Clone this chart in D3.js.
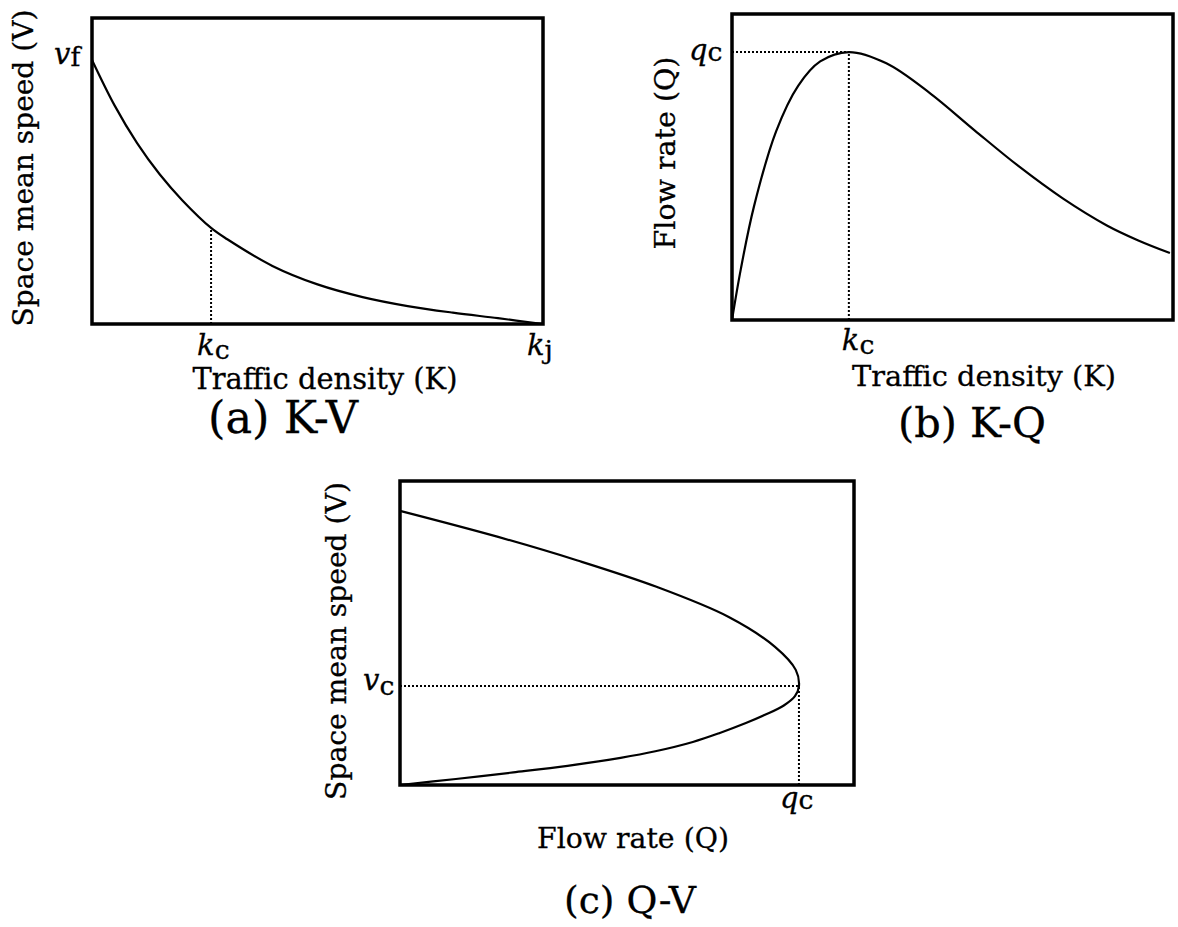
<!DOCTYPE html>
<html><head><meta charset="utf-8">
<script src="https://cdn.jsdelivr.net/npm/d3@7"></script>
<style>
html,body{margin:0;padding:0;background:#fff;}
svg{display:block;}
text{font-family:"DejaVu Serif","Liberation Serif",serif;fill:#000;stroke:#000;stroke-width:0.3px;}
</style></head><body>
<svg id="chart" width="1178" height="927"></svg>
<script>
// (a) K-V : space mean speed against traffic density (vf = 100, kj = 100)
const kvDensity = [0, 5, 10, 15, 20, 26.4, 30, 40, 50, 60, 70, 80, 90, 100];
const kvSpeed   = [100, 82.8, 68.5, 56.7, 46.9, 36.4, 32.1, 22, 15, 10.2, 6.8, 4.3, 2.2, 0];
const kvCritical = {density: 26.4, speed: 36.4};

// (b) K-Q : flow rate against traffic density (qc = 100)
const kqDensity = [0, 2, 5, 10, 15, 20, 26.5, 35, 45, 55, 65, 75, 85, 92, 99.3];
const kqFlow    = [0, 19, 42.5, 70.4, 87.4, 96.5, 100, 95.8, 84.5, 70.8, 57.4, 45.4, 35.3, 29.8, 25];
const kqCritical = {density: 26.5, flow: 100};

// (c) Q-V : space mean speed against flow rate (upper branch, then lower branch)
const qvFlow  = [0, 24.6, 44.5, 64.3, 82.4, 94.0, 99.2, 100, 99.0, 96.2, 91.5, 86.7, 80, 73.4, 64, 55.3, 42, 28.4, 14, 0];
const qvSpeed = [100, 90.5, 81.9, 72.3, 61.3, 50.4, 42.0, 36.1, 32.4, 29.0, 25.6, 22.6, 18.9, 15.7, 12.3, 9.9, 7.0, 4.6, 2.2, 0];
const qvCritical = {flow: 100, speed: 36.1};

// Axis and caption texts
const axisTitles = {
  a: {x: "Traffic density (K)", y: "Space mean speed (V)", caption: "(a) K-V"},
  b: {x: "Traffic density (K)", y: "Flow rate (Q)", caption: "(b) K-Q"},
  c: {x: "Flow rate (Q)", y: "Space mean speed (V)", caption: "(c) Q-V"}
};

const svg = d3.select("#chart");

// Set a text's font size so that it spans the given width
function fitWidth(sel, width) {
  const n = sel.node();
  const fs = parseFloat(sel.attr("font-size"));
  const w = n.getComputedTextLength();
  sel.attr("font-size", (fs * width / w).toFixed(2));
  return sel;
}

function makePanel(box, xMax, yMax) {
  const g = svg.append("g");
  const x = d3.scaleLinear().domain([0, xMax]).range([box.x0, box.x1]);
  const y = d3.scaleLinear().domain([0, yMax]).range([box.y1, box.y0]);
  return {g, x, y, box};
}

function drawFrame(p) {
  p.g.append("rect")
    .attr("x", p.box.x0).attr("y", p.box.y0)
    .attr("width", p.box.x1 - p.box.x0).attr("height", p.box.y1 - p.box.y0)
    .attr("fill", "none").attr("stroke", "#000").attr("stroke-width", 3.5);
}

function drawCurve(p, xs, ys) {
  const pts = xs.map((d, i) => [d, ys[i]]);
  p.g.append("path")
    .attr("d", d3.line().x(d => p.x(d[0])).y(d => p.y(d[1])).curve(d3.curveCatmullRom.alpha(0.5))(pts))
    .attr("fill", "none").attr("stroke", "#000").attr("stroke-width", 2.2);
}

function dotted(p, x1, y1, x2, y2) {
  p.g.append("line")
    .attr("x1", p.x(x1)).attr("y1", p.y(y1)).attr("x2", p.x(x2)).attr("y2", p.y(y2))
    .attr("stroke", "#000").attr("stroke-width", 2).attr("stroke-dasharray", "2,2");
}

// Symbol label: italic letter with an upright subscript
function symbol(g, x, y, main, sub, size, subDrop) {
  const t = g.append("text").attr("x", x).attr("y", y).attr("font-size", size);
  t.append("tspan").attr("font-style", "italic").text(main);
  t.append("tspan").attr("dy", subDrop).attr("font-size", size * 0.92).text(sub);
  return t;
}

function yTitle(g, cx, cy, label, len) {
  const t = g.append("text").attr("transform", `translate(${cx},${cy}) rotate(-90)`)
    .attr("text-anchor", "middle").attr("font-size", 26).text(label);
  fitWidth(t, len);
}

function xTitle(g, cx, y, label, len) {
  const t = g.append("text").attr("x", cx).attr("y", y)
    .attr("text-anchor", "middle").attr("font-size", 24).text(label);
  fitWidth(t, len);
}

// ---- (a) K-V ----
const pa = makePanel({x0: 92, y0: 18, x1: 543, y1: 324}, 100, 115.9);
drawFrame(pa);
dotted(pa, kvCritical.density, 0, kvCritical.density, kvCritical.speed);
drawCurve(pa, kvDensity, kvSpeed);
symbol(pa.g, pa.x(0) - 38, pa.y(100) + 4, "v", "f", 29, 2);
symbol(pa.g, pa.x(kvCritical.density) - 14, 355, "k", "c", 29, 4);
symbol(pa.g, pa.x(100) - 16, 355, "k", "j", 29, 4);
yTitle(pa.g, 33, 168, axisTitles.a.y, 317);
xTitle(pa.g, 325, 389, axisTitles.a.x, 265);
xTitle(pa.g, 283, 433, axisTitles.a.caption, 150);

// ---- (b) K-Q ----
const pb = makePanel({x0: 732, y0: 14, x1: 1173, y1: 320}, 100, 114.2);
drawFrame(pb);
dotted(pb, 0, kqCritical.flow, kqCritical.density, kqCritical.flow);
dotted(pb, kqCritical.density, 0, kqCritical.density, kqCritical.flow);
drawCurve(pb, kqDensity, kqFlow);
symbol(pb.g, pb.x(0) - 43, pb.y(kqCritical.flow) + 8, "q", "c", 29, 1);
symbol(pb.g, pb.x(kqCritical.density) - 7, 350, "k", "c", 29, 4);
yTitle(pb.g, 675, 153, axisTitles.b.y, 193);
xTitle(pb.g, 984, 386, axisTitles.b.x, 264);
xTitle(pb.g, 972, 437, axisTitles.b.caption, 148);

// ---- (c) Q-V ----
const pc = makePanel({x0: 400, y0: 481, x1: 854, y1: 785}, 113.8, 110.9);
drawFrame(pc);
dotted(pc, 0, qvCritical.speed, qvCritical.flow, qvCritical.speed);
dotted(pc, qvCritical.flow, 0, qvCritical.flow, qvCritical.speed);
drawCurve(pc, qvFlow, qvSpeed);
symbol(pc.g, pc.x(0) - 37, pc.y(qvCritical.speed) + 4, "v", "c", 29, 5);
symbol(pc.g, pc.x(qvCritical.flow) - 19, 808, "q", "c", 29, 1);
yTitle(pc.g, 346, 641, axisTitles.c.y, 318);
xTitle(pc.g, 633, 848, axisTitles.c.x, 192);
xTitle(pc.g, 630, 913, axisTitles.c.caption, 132);
</script>
</body></html>
